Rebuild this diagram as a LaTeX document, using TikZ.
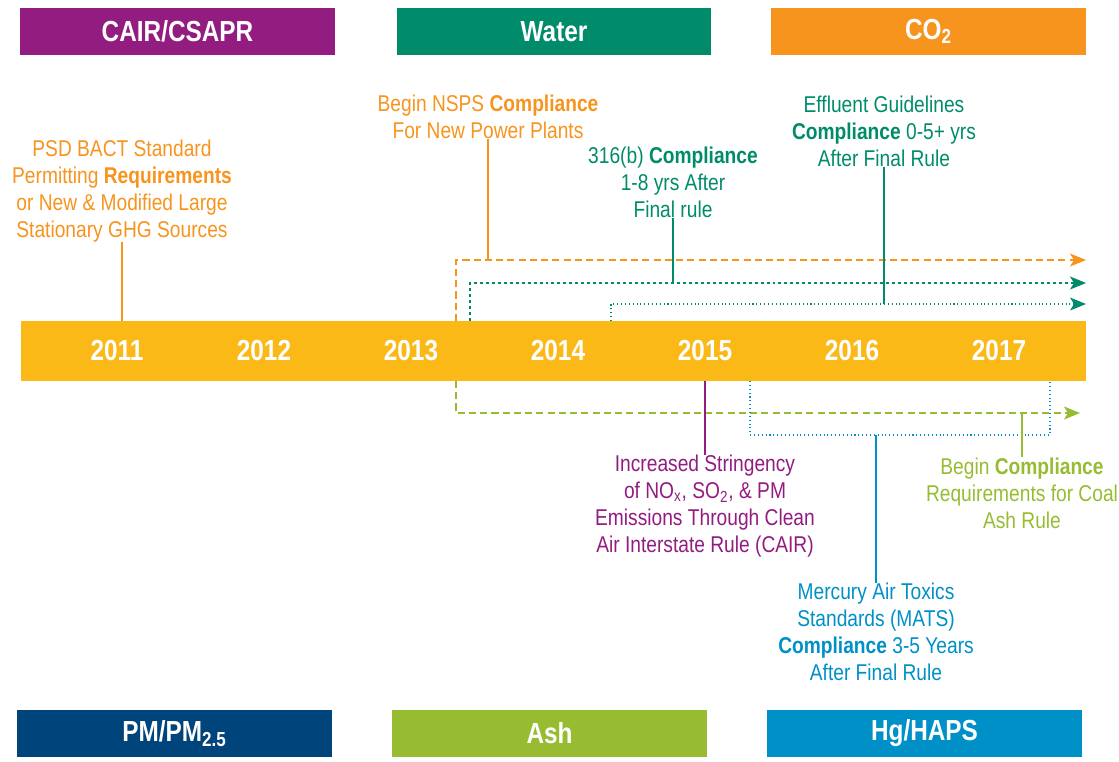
\documentclass[tikz,border=0pt]{standalone}
\usepackage{fontspec}
\setmainfont{Liberation Sans}[FakeStretch=0.84]
\usetikzlibrary{arrows.meta,calc}

\definecolor{cairPurple}{HTML}{931C80}
\definecolor{waterGreen}{HTML}{008C6A}
\definecolor{coOrange}{HTML}{F7941E}
\definecolor{pmNavy}{HTML}{00447C}
\definecolor{ashGreen}{HTML}{97BC32}
\definecolor{hgBlue}{HTML}{0090C8}
\definecolor{barYellow}{HTML}{FBB917}

\begin{document}
\begin{tikzpicture}[x=0.02cm, y=-0.02cm,
                    box/.style={minimum width=6.3cm, minimum height=0.94cm,
                                inner sep=0, text=white,
                                font=\fontsize{16.5}{18}\selectfont\bfseries},
                    note/.style={align=center, inner sep=0,
                                 font=\fontsize{13}{15.3}\selectfont},
                    year/.style={text=white,
                                 font=\fontsize{16.5}{18}\selectfont\bfseries},
                    lead/.style={line width=0.7pt},
                    longdash/.style={line width=0.7pt, dash pattern=on 4pt off 2.4pt},
                    shortdash/.style={line width=0.7pt, dash pattern=on 1.7pt off 1.7pt},
                    dotline/.style={line width=0.7pt, dash pattern=on 0.6pt off 1.6pt},
                    tip/.style={-{Stealth[length=3.2mm, width=2.6mm, inset=0.8mm]}}]
    \useasboundingbox (0,0) rectangle (1119,761);

    % category boxes
    \node[box, fill=cairPurple] (cairBox) at (177.5,31.5) {CAIR/CSAPR};
    \node[box, fill=waterGreen] (waterBox) at (554,31.5) {Water};
    \node[box, fill=coOrange] (coBox) at (928.5,31.5) {CO\textsubscript{2}};
    \node[box, fill=pmNavy] (pmBox) at (174.5,733.5) {PM/PM\textsubscript{2.5}};
    \node[box, fill=ashGreen] (ashBox) at (549.5,733.5) {Ash};
    \node[box, fill=hgBlue] (hgBox) at (924.5,733.5) {Hg/HAPS};

    % time bar
    \node[fill=barYellow, minimum width=21.3cm, minimum height=1.2cm,
          inner sep=0] (bar) at (553.5,351) {};
    \foreach \yr [count=\i from 0] in {2011,2012,2013,2014,2015,2016,2017}
        \node[year] (y\yr) at (117+147*\i,351) {\yr};

    % notes above the bar
    \node[note, text=coOrange] (psd) at (122,191)
        {PSD BACT Standard\\ Permitting \textbf{Requirements}\\
         or New \& Modified Large\\ Stationary GHG Sources};
    \node[note, text=coOrange] (nsps) at (488,117)
        {Begin NSPS \textbf{Compliance}\\ For New Power Plants};
    \node[note, text=waterGreen] (cwa) at (673,182)
        {316(b) \textbf{Compliance}\\ 1-8 yrs After\\ Final rule};
    \node[note, text=waterGreen] (elg) at (884,131)
        {Effluent Guidelines\\ \textbf{Compliance} 0-5+ yrs\\ After Final Rule};

    % notes below the bar
    \node[note, text=cairPurple] (cair) at (705,506)
        {Increased Stringency\\ of NO\textsubscript{x}, SO\textsubscript{2}, \& PM\\
         Emissions Through Clean\\ Air Interstate Rule (CAIR)};
    \node[note, text=ashGreen] (ccr) at (1022,493)
        {Begin \textbf{Compliance}\\ Requirements for Coal\\ Ash Rule};
    \node[note, text=hgBlue] (mats) at (876,632)
        {Mercury Air Toxics\\ Standards (MATS)\\
         \textbf{Compliance} 3-5 Years\\ After Final Rule};

    % run lines
    \coordinate (nspsFoot) at (456,321);
    \coordinate (nspsTip) at (1086,260);
    \coordinate (cwaFoot) at (470,321);
    \coordinate (cwaTip) at (1086,283);
    \coordinate (elgFoot) at (611,321);
    \coordinate (elgTip) at (1086,304);
    \coordinate (ccrFoot) at (456,381);
    \coordinate (ccrTip) at (1080,413);
    \coordinate (matsLeft) at (750,381);
    \coordinate (matsRight) at (1050,381);
    \coordinate (matsLow) at (876,435);

    \draw[coOrange, longdash, tip] (nspsFoot) |- (nspsTip);
    \draw[waterGreen, shortdash, tip] (cwaFoot) |- (cwaTip);
    \draw[waterGreen, dotline, tip] (elgFoot) |- (elgTip);
    \draw[ashGreen, longdash, tip] (ccrFoot) |- (ccrTip);
    \draw[hgBlue, dotline] (matsLeft) |- (matsLow) -| (matsRight);

    % leaders
    \draw[coOrange, lead] (psd.south) -- (psd.south |- bar.north);
    \draw[coOrange, lead] (nsps.south) -- (nsps.south |- nspsTip);
    \draw[waterGreen, lead] (cwa.south) -- (cwa.south |- cwaTip);
    \draw[waterGreen, lead] (elg.south) -- (elg.south |- elgTip);
    \draw[cairPurple, lead] (cair.north) -- (cair.north |- bar.south);
    \draw[ashGreen, lead] (ccr.north) -- (ccr.north |- ccrTip);
    \draw[hgBlue, lead] (mats.north) -- (matsLow);
\end{tikzpicture}
\end{document}
